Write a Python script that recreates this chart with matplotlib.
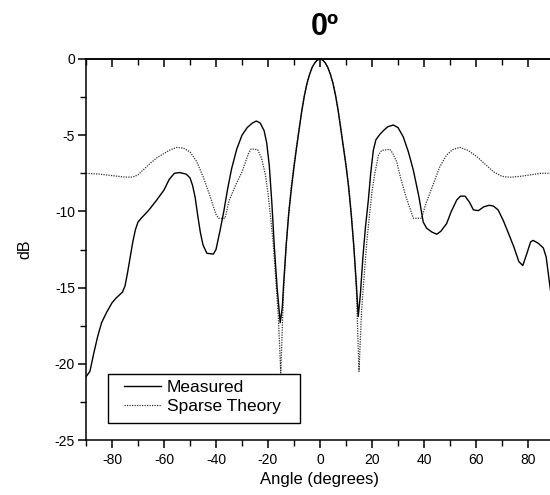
import matplotlib
matplotlib.use("Agg")
import matplotlib.pyplot as plt
from matplotlib.patches import Rectangle
from matplotlib.ticker import MultipleLocator

plt.rcParams['font.family'] = ['Liberation Sans', 'DejaVu Sans']
plt.rcParams['axes.unicode_minus'] = False

title = "0º"
xlabel = "Angle (degrees)"
ylabel = "dB"
labels = ["Measured", "Sparse Theory"]

meas_x = [-90, -88.5, -87, -85.5, -84, -82, -80, -78.5, -76, -75, -74, -73, -72, -71, -70,
          -68.5, -66, -63, -60, -58, -56, -54, -51.5, -50, -49, -48, -47, -46, -45, -43.5,
          -41, -40, -38.5, -37, -35.5, -34, -32, -30, -28, -26, -24.5, -23, -21.5, -20.5,
          -19.5, -18.5, -17.5, -16.5, -15.3, -14.5, -14, -13, -12, -11, -10, -9, -8, -7,
          -6, -5, -4, -3, -2, -1, 0, 1, 2, 3, 4, 5, 6, 7, 8, 9, 10, 11, 12, 13, 14, 14.7,
          15.5, 16.5, 17.5, 18.6, 19.5, 20.5, 21.5, 23, 24.4, 26, 28.2, 30, 32, 34, 35.9,
          38, 39.7, 41, 43, 44.9, 46.5, 48.7, 50.5, 52.6, 54, 55.8, 57.5, 59, 60.9, 63, 65,
          66.7, 68.5, 70.5, 72.4, 74.5, 76.5, 78, 79.5, 81, 82, 84, 85.9, 87, 88.5, 90]
meas_y = [-20.85, -20.5, -19.3, -18.2, -17.3, -16.6, -16.0, -15.7, -15.3, -14.9, -14.0,
          -13.0, -12.0, -11.2, -10.7, -10.4, -9.95, -9.3, -8.6, -7.9, -7.5, -7.45, -7.55,
          -7.8, -8.3, -9.1, -10.3, -11.4, -12.2, -12.75, -12.8, -12.5, -11.3, -10.0, -8.5,
          -7.2, -5.9, -5.0, -4.5, -4.2, -4.07, -4.2, -4.7, -5.5, -7.0, -9.5, -12.5, -15.0,
          -17.3, -16.3, -14.8, -12.2, -10.1, -8.5, -7.1, -5.8, -4.6, -3.4, -2.4, -1.6, -1.0,
          -0.55, -0.25, -0.06, 0.0, -0.06, -0.25, -0.55, -1.0, -1.6, -2.4, -3.4, -4.6, -5.8,
          -7.0, -8.4, -10.2, -12.3, -14.8, -16.9, -15.5, -13.0, -11.0, -9.25, -7.5, -6.0,
          -5.3, -4.95, -4.7, -4.45, -4.33, -4.5, -5.1, -6.1, -7.3, -9.0, -10.7, -11.1,
          -11.35, -11.5, -11.3, -10.8, -10.0, -9.25, -9.0, -9.0, -9.4, -9.9, -9.95, -9.7,
          -9.6, -9.65, -9.9, -10.6, -11.4, -12.3, -13.3, -13.55, -12.8, -12.0, -11.9, -12.1,
          -12.4, -13.0, -15.0, -16.8]

theo_x = [-90, -85, -80, -75, -72, -70, -67.5, -65, -62.5, -60, -57.5, -55, -52.5, -50,
          -47.5, -45, -42.5, -40, -39, -36.5, -35, -32.5, -30, -27.5, -26.5, -24, -22.5,
          -21, -20, -19, -18, -17, -16, -15.1, -14, -13, -12, -11, -10, -9, -8, -7, -6, -5,
          -4, -3, -2, -1, 0, 1, 2, 3, 4, 5, 6, 7, 8, 9, 10, 11, 12, 13, 14, 15, 16, 17, 18,
          19, 20, 21, 22.5, 23.7, 26.9, 28, 29.5, 31, 33, 35.9, 39.1, 40.5, 43.6, 46, 48.7,
          51, 53.8, 57, 60.3, 63.5, 66.7, 70, 73, 77, 81, 85, 90]
theo_y = [-7.5, -7.55, -7.65, -7.75, -7.75, -7.6, -7.2, -6.8, -6.45, -6.2, -5.95, -5.8,
          -5.85, -6.1, -6.7, -7.7, -8.9, -10.2, -10.45, -10.45, -9.3, -8.3, -7.4, -6.2,
          -5.9, -5.95, -6.5, -7.6, -8.8, -10.4, -12.1, -14.5, -17.0, -20.6, -15.2, -12.2,
          -10.0, -8.3, -6.9, -5.7, -4.5, -3.4, -2.4, -1.6, -1.0, -0.55, -0.25, -0.06, 0.0,
          -0.06, -0.25, -0.55, -1.0, -1.6, -2.4, -3.4, -4.5, -5.7, -6.9, -8.3, -10.0, -12.2,
          -15.2, -20.5, -16.5, -14.2, -12.0, -10.3, -8.7, -7.6, -6.3, -6.0, -5.93, -6.2,
          -6.74, -7.8, -9.0, -10.45, -10.45, -9.6, -8.2, -7.1, -6.3, -5.95, -5.8, -6.0,
          -6.4, -6.9, -7.4, -7.7, -7.76, -7.7, -7.6, -7.5, -7.5]

fig = plt.figure(figsize=(5.5, 4.95), dpi=100)
ax = fig.add_axes([86/550, 1 - 440/495, 468/550, 381/495])

l1, = ax.plot(meas_x, meas_y, color='black', lw=1.0, zorder=3)
l2, = ax.plot(theo_x, theo_y, color='#333333', lw=0.9, ls=(0, (1, 1)), zorder=2)

ax.set_xlim(-90, 90)
ax.set_ylim(-25, 0)

ax.spines['right'].set_visible(False)
for s in ['left', 'bottom', 'top']:
    ax.spines[s].set_linewidth(1.1)

ax.xaxis.set_minor_locator(MultipleLocator(10))
ax.yaxis.set_minor_locator(MultipleLocator(2.5))
ax.set_xticks([-80, -60, -40, -20, 0, 20, 40, 60, 80])
ax.set_yticks([0, -5, -10, -15, -20, -25])

ax.tick_params(axis='x', which='major', direction='out', length=6, width=1.1,
               labelsize=10, pad=3, top=False)
ax.tick_params(axis='x', which='minor', direction='out', length=4, width=1.0, top=False)
ax.tick_params(axis='y', which='major', direction='out', length=6, width=1.1,
               labelsize=10, pad=2, right=False)
ax.tick_params(axis='y', which='minor', direction='out', length=4, width=1.0, right=False)

# top axis ticks pointing inward
top = ax.secondary_xaxis('top')
top.set_xticks([-80, -60, -40, -20, 0, 20, 40, 60, 80])
top.xaxis.set_minor_locator(MultipleLocator(10))
top.tick_params(which='major', direction='in', length=6, width=1.1, labeltop=False)
top.tick_params(which='minor', direction='in', length=4, width=1.0)
top.spines['top'].set_linewidth(1.1)

ax.set_xlabel(xlabel, fontsize=12, labelpad=4)
ax.set_ylabel(ylabel, fontsize=11.5, labelpad=16)
fig.text(325/550, 1 - 27/495, title, fontsize=22, fontweight='bold',
         ha='center', va='center')

rect = Rectangle((0.0464, 0.0438), 0.410, 0.1286, transform=ax.transAxes,
                 facecolor='white', edgecolor='black', lw=1.0, zorder=4)
ax.add_patch(rect)
leg = ax.legend([l1, l2], labels, loc='upper left', bbox_to_anchor=(0.0812, 0.1575),
                frameon=False, fontsize=12.5, handlelength=2.15, handletextpad=0.3,
                borderpad=0, borderaxespad=0, labelspacing=0.2)
leg.set_zorder(5)

fig.savefig("out.png", dpi=100)
